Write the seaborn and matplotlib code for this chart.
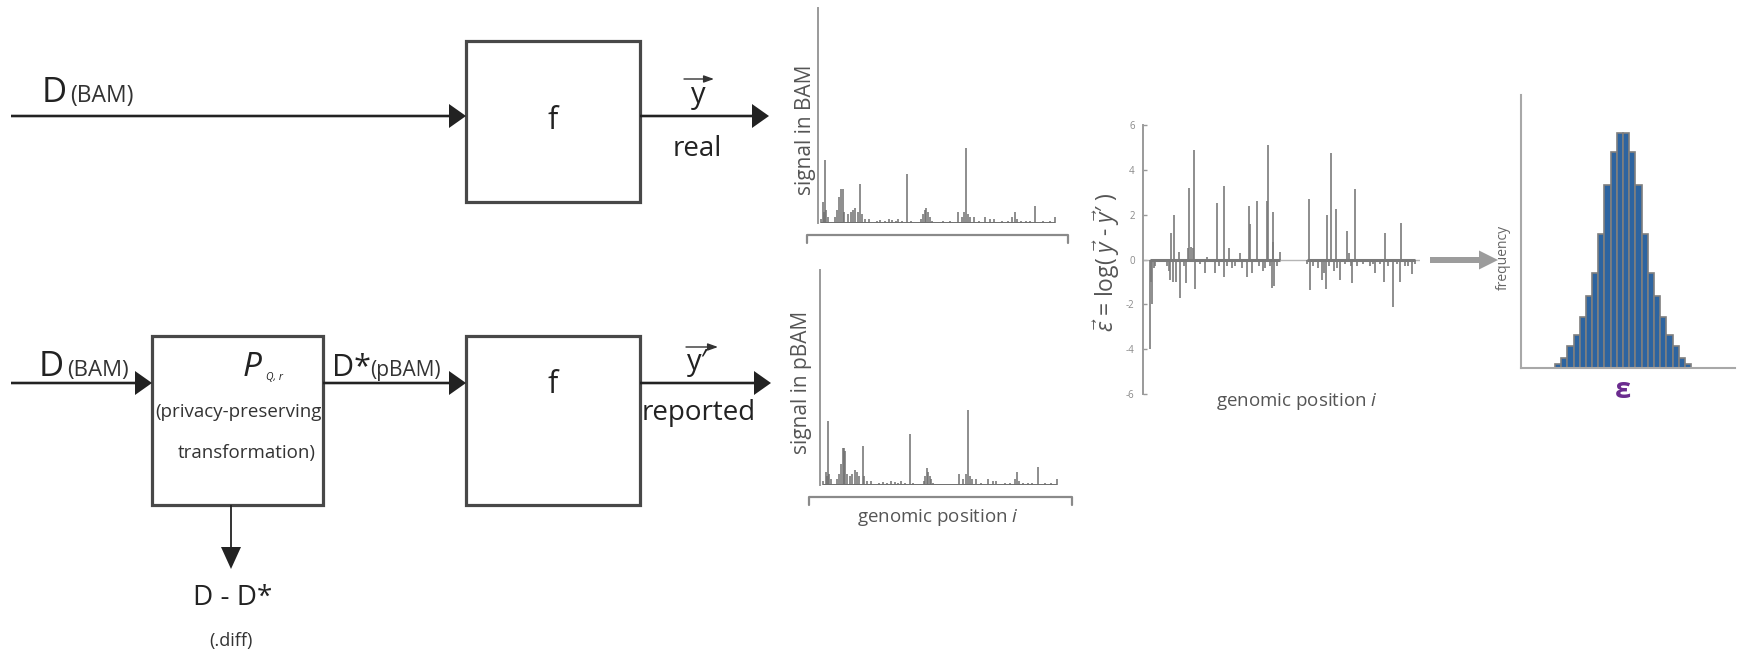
import matplotlib
matplotlib.use("Agg")
import matplotlib.pyplot as plt
import seaborn as sns
from matplotlib.patches import Rectangle

W, H = 1739, 651

# ---- read-depth signal along the genome (real BAM) ----
bam_pos = [1.4, 2.1, 2.6, 3.1, 3.5, 4.2, 7.0, 8.0, 8.9, 9.6,
           10.3, 11.0, 12.7, 13.7, 14.5, 15.5, 16.5, 17.6, 18.3, 19.5,
           21.1, 24.6, 26.0, 28.0, 29.5, 31.0, 32.4, 33.4, 35.2, 37.0,
           38.7, 43.0, 43.7, 44.4, 45.1, 45.8, 46.5, 47.3, 52.0, 55.0,
           58.2, 59.9, 61.0, 61.7, 62.4, 63.4, 64.8, 66.9, 69.7, 71.8,
           73.2, 76.8, 79.0, 81.0, 82.0, 82.8, 84.5, 86.6, 88.5, 90.6,
           93.7, 96.5, 98.6]
bam_signal = [2, 10, 5, 29.5, 6, 3, 3, 6, 12, 16,
              16, 5, 4, 5, 6, 7, 5, 18, 4, 2,
              2, 1, 1.5, 1, 2, 1.5, 1, 2, 1, 23,
              1, 2, 4, 6, 7, 5, 3, 1, 1, 1,
              5, 3, 5, 35, 4, 3, 3, 1, 3, 2,
              2, 1, 1, 3, 5, 2, 1, 1, 1, 8,
              1, 1, 3]

# ---- read-depth signal after the privacy-preserving transformation (pBAM) ----
pbam_pos = [1.4, 2.3, 2.8, 3.2, 3.7, 4.4, 7.2, 8.1, 8.8, 9.5,
            9.9, 10.4, 11.1, 12.6, 13.5, 14.4, 15.4, 16.4, 17.9, 18.5,
            19.6, 21.3, 24.5, 26.2, 28.1, 29.6, 31.2, 32.6, 33.6, 35.3,
            37.3, 38.8, 43.2, 43.9, 44.4, 45.0, 45.7, 46.4, 47.2, 58.0,
            59.7, 60.9, 61.7, 62.5, 63.5, 64.9, 67.0, 69.8, 71.9, 73.3,
            76.9, 79.2, 81.2, 82.0, 82.9, 84.6, 86.7, 88.4, 90.8, 93.8,
            96.4, 98.6]
pbam_signal = [2, 6, 4, 30, 5, 3, 3, 5, 10, 17,
               17, 16, 5, 4, 5, 7, 6, 4, 18, 4,
               2, 2, 1, 1.5, 1, 2, 1.5, 1, 2, 1,
               23.6, 1, 2, 4, 7.8, 6, 4, 3, 1, 5,
               3, 5, 35, 4, 3, 3, 1, 3, 2, 2,
               1, 1, 3, 6, 2, 1, 1, 1, 8.5, 1,
               1, 3]

# ---- residual between real and reported signal ----
resid_pos = [2.4, 2.9, 3.2, 3.8, 4.4, 8.7, 9.3, 9.9, 10.2, 10.7,
             11.3, 11.8, 12.9, 13.2, 14.7, 15.6, 16.1, 16.6, 17.3, 17.9,
             18.4, 18.9, 20.7, 22.5, 23.1, 26.1, 26.7, 27.4, 29.1, 29.3,
             30.3, 30.9, 32.1, 33.3, 34.9, 35.7, 37.5, 38.1, 38.7, 39.3,
             41.1, 41.7, 43.3, 44.1, 44.7, 45.1, 45.9, 46.5, 46.8, 47.1,
             47.4, 48.3, 49.5, 59.1, 60.1, 60.3, 61.5, 63.3, 64.5, 65.4,
             66.0, 66.3, 67.3, 67.9, 68.8, 69.6, 70.2, 71.2, 73.0, 73.8,
             74.5, 75.0, 75.6, 76.6, 77.2, 79.6, 82.0, 83.0, 83.8, 85.6,
             87.1, 87.5, 88.5, 90.4, 91.6, 92.8, 93.1, 94.6, 95.8, 97.0,
             98.2]
resid_val = [-4.0, -1.0, -2.0, -0.4, -0.3, -0.3, -0.5, -0.9, 1.2, -1.0,
             2.0, -1.0, 0.35, -1.7, -0.3, -1.05, 0.5, 3.2, 0.55, 0.5,
             4.9, -1.3, -0.2, -0.6, 0.1, -0.6, 2.5, -0.3, 3.3, -0.8,
             -0.3, 0.5, -0.4, -0.3, 0.3, -0.4, -0.8, 2.4, 1.6, -0.6,
             2.6, -0.3, -0.5, -0.4, 2.6, 5.1, -0.3, -1.25, 2.1, 0.8,
             -1.2, -0.3, 0.35, -0.2, 2.7, -1.35, -0.3, -0.4, -0.9, -0.6,
             -1.3, 2.0, -0.3, 4.75, -0.5, 2.25, -0.4, -0.9, -0.2, 1.25,
             0.3, -0.3, -1.05, 3.15, -0.3, -0.2, -0.3, -0.2, -0.6, -0.2,
             -1.0, 1.2, -0.3, -2.1, -0.2, -1.0, 1.65, -0.3, -0.3, -0.65,
             -0.2]
resid_ticks = [-6, -4, -2, 0, 2, 4, 6]

# ---- distribution of the residual epsilon ----
eps_centers = [-2.1, -1.9, -1.7, -1.5, -1.3, -1.1, -0.9, -0.7, -0.5, -0.3, -0.1,
               0.1, 0.3, 0.5, 0.7, 0.9, 1.1, 1.3, 1.5, 1.7, 1.9, 2.1]
eps_counts = [4, 10, 22, 33, 51, 72, 95, 134, 183, 216, 235,
              235, 216, 183, 134, 95, 72, 51, 33, 22, 10, 4]
eps_bin = 0.2

sns.set_theme(style="white")
plt.rcParams["font.family"] = ["Open Sans", "DejaVu Sans"]
plt.rcParams["mathtext.fontset"] = "custom"
plt.rcParams["mathtext.rm"] = "Open Sans"
plt.rcParams["mathtext.it"] = "Open Sans:italic"

fig = plt.figure(figsize=(W / 100, H / 100), dpi=100)
fig.patch.set_facecolor("white")

# full-figure canvas in pixel units for the block diagram
cv = fig.add_axes([0, 0, 1, 1])
cv.set_xlim(0, W)
cv.set_ylim(H, 0)
cv.axis("off")


def px_axes(left, top, width, height):
    ax = fig.add_axes([left / W, 1 - (top + height) / H, width / W, height / H])
    ax.patch.set_alpha(0)
    return ax


INK = "#222222"


def arrow(x0, y0, x1, y1, width=2.6, hw=24, hl=17, color=INK):
    cv.arrow(x0, y0, x1 - x0, y1 - y0, width=width, head_width=hw, head_length=hl,
             length_includes_head=True, fc=color, ec=color, lw=0, zorder=3)


def box(x, y, w, h):
    cv.add_patch(Rectangle((x, y), w, h, fc="white", ec="#484848", lw=2.3, zorder=2))


def vec_arrow(x0, x1, y):
    cv.annotate("", xy=(x1, y), xytext=(x0, y),
                arrowprops=dict(arrowstyle="-|>,head_length=0.5,head_width=0.18",
                                lw=1.0, color="#333333", shrinkA=0, shrinkB=0))


# ---- top row: D (BAM) -> f -> y real ----
arrow(11, 116, 466, 116)
box(466, 41, 174, 161)
cv.text(42, 102, "D", fontsize=25, color=INK, va="baseline")
cv.text(70, 102, "(BAM)", fontsize=16.5, color="#333333", va="baseline")
cv.text(553, 121, "f", fontsize=22, color=INK, ha="center", va="center")
arrow(640, 116, 769, 116)
cv.text(698, 103, "y", fontsize=21, color=INK, ha="center", va="baseline")
vec_arrow(684, 714, 79)
cv.text(697, 156, "real", fontsize=20, color=INK, ha="center", va="baseline")

# ---- bottom row: D (BAM) -> P -> D* (pBAM) -> f -> y' reported ----
arrow(11, 383, 152, 383)
cv.text(39, 376, "D", fontsize=25, color=INK, va="baseline")
cv.text(67, 376, "(BAM)", fontsize=16, color="#333333", va="baseline")
box(152, 336, 171, 169)
cv.text(243, 376, "P", fontsize=24, color=INK, style="italic", va="baseline")
cv.text(266, 380, "Q, r", fontsize=7.5, color=INK, style="italic", va="baseline")
cv.text(238, 412, "(privacy-preserving", fontsize=13.5, color="#333333", ha="center", va="center")
cv.text(247, 453, "transformation)", fontsize=13.5, color="#333333", ha="center", va="center")
arrow(323, 383, 466, 383)
cv.text(332, 376, "D*", fontsize=22, color=INK, va="baseline")
cv.text(370, 376, "(pBAM)", fontsize=15, color="#333333", va="baseline")
box(466, 336, 174, 169)
cv.text(553, 385, "f", fontsize=22, color=INK, ha="center", va="center")
arrow(640, 383, 771, 383)
cv.text(698, 370, "y\u2032", fontsize=21, color=INK, ha="center", va="baseline")
vec_arrow(686, 718, 347)
cv.text(699, 420, "reported", fontsize=20, color=INK, ha="center", va="baseline")
arrow(231, 505, 231, 569, width=1.8, hw=20, hl=22)
cv.text(233, 598, "D - D*", fontsize=20, color=INK, ha="center", va="center")
cv.text(231, 641, "(.diff)", fontsize=13, color="#333333", ha="center", va="center")

GRAY_TXT = "#555555"
SPIKE = "#6f6f6f"


def signal_track(ax, pos, sig):
    ax.vlines(pos, 0, sig, color=SPIKE, lw=1.1)
    ax.hlines(0, min(pos), max(pos), color=SPIKE, lw=1.4)
    ax.set_xlim(0, 100)
    ax.set_ylim(0, 100)
    sns.despine(ax=ax, bottom=True)
    ax.spines["left"].set_color("#9a9a9a")
    ax.spines["left"].set_linewidth(1.4)
    ax.set_xticks([])
    ax.set_yticks([])


# ---- signal tracks ----
ax_bam = px_axes(818, 8, 240, 215)
signal_track(ax_bam, bam_pos, bam_signal)
ax_pbam = px_axes(820, 270, 240, 215)
signal_track(ax_pbam, pbam_pos, pbam_signal)

cv.text(805, 130, "signal in BAM", fontsize=15, color=GRAY_TXT, rotation=90,
        ha="center", va="center")
cv.text(802, 382, "signal in pBAM", fontsize=15, color=GRAY_TXT, rotation=90,
        ha="center", va="center")
for y_br, x0, x1 in [(235, 807, 1068), (497, 809, 1072)]:
    cv.plot([x0, x0, x1, x1], [y_br + 8, y_br, y_br, y_br + 8], color="#8a8a8a", lw=1.6)
cv.text(938, 518, "genomic position $\\mathit{i}$", fontsize=13.5, color=GRAY_TXT,
        ha="center", va="center")

# ---- residual track ----
ax_res = px_axes(1143, 125, 277, 269)
ax_res.axhline(0, color="#b5b5b5", lw=1.0)
# dense baseline under the two clusters of residuals
left_run = [p for p in resid_pos if p < 55]
right_run = [p for p in resid_pos if p >= 55]
ax_res.hlines([0, 0], [min(left_run), min(right_run)], [max(left_run), max(right_run)],
              color="#7a7a7a", lw=2.2)
ax_res.vlines(resid_pos, 0, resid_val, color="#7a7a7a", lw=1.2)
ax_res.set_xlim(0, 100)
ax_res.set_ylim(-6, 6)
ax_res.set_yticks(resid_ticks)
ax_res.set_yticklabels([str(t) for t in resid_ticks])
ax_res.set_xticks([])
sns.despine(ax=ax_res, bottom=True)
ax_res.spines["left"].set_color("#9a9a9a")
ax_res.spines["left"].set_linewidth(1.4)
ax_res.tick_params(axis="y", direction="in", length=3, width=1, color="#9a9a9a",
                   labelsize=7, labelcolor="#8a8a8a", pad=6, left=True)
cv.text(1107, 262, "$\\vec{\\varepsilon}$ = log( $\\vec{y}$ - $\\vec{y}$\u2032 )",
        fontsize=16.5, color=GRAY_TXT, rotation=90, ha="center", va="center")
cv.text(1297, 402, "genomic position $\\mathit{i}$", fontsize=13.5, color=GRAY_TXT,
        ha="center", va="center")

# gray arrow into the histogram
arrow(1430, 260, 1498, 260, width=6, hw=19, hl=19, color="#9c9c9c")

# ---- histogram of epsilon ----
ax_hist = px_axes(1521, 95, 214, 273)
eps_edges = [c - eps_bin / 2 for c in eps_centers] + [eps_centers[-1] + eps_bin / 2]
sns.histplot(x=eps_centers, weights=eps_counts, bins=eps_edges, ax=ax_hist,
             color="#2d64a0", edgecolor="#7f7f7f", linewidth=1.2, alpha=1)
ax_hist.set_xlim(-3.3, 3.62)
ax_hist.set_ylim(0, 273)
ax_hist.set_xticks([])
ax_hist.set_yticks([])
ax_hist.set_xlabel("")
ax_hist.set_ylabel("")
sns.despine(ax=ax_hist)
for s in ("left", "bottom"):
    ax_hist.spines[s].set_color("#a8a8a8")
    ax_hist.spines[s].set_linewidth(1.5)
cv.text(1503, 257, "frequency", fontsize=10, color="#666666", rotation=90,
        ha="center", va="center")
cv.text(1623, 391, "\u03b5", fontsize=21, color="#6b2c8f", fontweight="bold",
        ha="center", va="center")

fig.savefig("out.png", dpi=100, facecolor="white")
